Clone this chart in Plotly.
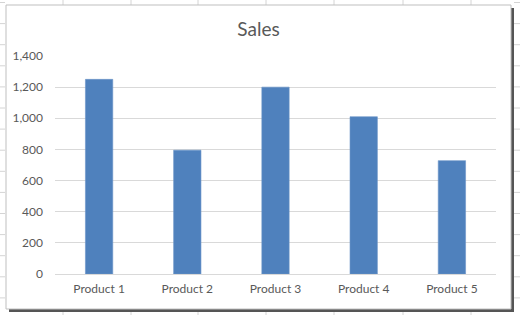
import plotly.graph_objects as go

categories = ["Product 1", "Product 2", "Product 3", "Product 4", "Product 5"]
sales = [1250, 795, 1200, 1010, 728]
y_ticks = [0, 200, 400, 600, 800, 1000, 1200, 1400]

W, H = 520, 315
L, R, T, B = 55, 496, 56, 274  # plot area in pixels


def px(x):
    return (x - L) / (R - L)


def py(y):
    return (B - y) / (B - T)


fig = go.Figure(
    go.Bar(
        x=categories,
        y=sales,
        marker=dict(color="#4F81BD", line=dict(color="#6A94C8", width=0.6)),
        width=0.31,
    )
)

shapes = []
grid_c = "#D4D4D4"
# spreadsheet cell lines outside the chart
col_x = [63, 131, 198, 266, 334, 403, 471]
for cx in col_x:
    shapes.append(dict(type="line", xref="paper", yref="paper", x0=px(cx), x1=px(cx),
                       y0=py(0), y1=py(5), line=dict(color=grid_c, width=1), layer="below"))
    shapes.append(dict(type="line", xref="paper", yref="paper", x0=px(cx), x1=px(cx),
                       y0=py(309), y1=py(315), line=dict(color=grid_c, width=1), layer="below"))
row_y = [2.5 + 21.1 * k for k in range(15)]
for ry in row_y:
    shapes.append(dict(type="line", xref="paper", yref="paper", x0=px(0), x1=px(5),
                       y0=py(ry), y1=py(ry), line=dict(color=grid_c, width=1), layer="below"))
    shapes.append(dict(type="line", xref="paper", yref="paper", x0=px(514), x1=px(520),
                       y0=py(ry), y1=py(ry), line=dict(color=grid_c, width=1), layer="below"))
# shadow
shapes.append(dict(type="rect", xref="paper", yref="paper", x0=px(9), x1=px(514),
                   y0=py(312), y1=py(8), fillcolor="#555555", line=dict(width=0), layer="below"))
# chart frame
shapes.append(dict(type="rect", xref="paper", yref="paper", x0=px(6), x1=px(511),
                   y0=py(309), y1=py(5), fillcolor="white",
                   line=dict(color="#BFBFBF", width=1), layer="below"))

fig.update_layout(
    width=W, height=H,
    margin=dict(l=L, r=W - R, t=T, b=H - B),
    paper_bgcolor="white", plot_bgcolor="rgba(0,0,0,0)",
    showlegend=False,
    shapes=shapes,
    font=dict(family="Lato, Liberation Sans, sans-serif", color="#595959", size=12),
    title=dict(text="Sales", x=px(258.5), xref="paper", xanchor="center",
               y=1 - 29 / H, yanchor="middle",
               font=dict(size=19, color="#595959", family="Lato, Liberation Sans, sans-serif")),
)
fig.update_yaxes(
    range=[0, 1400], tickvals=y_ticks, tickformat=",", showgrid=True,
    gridcolor="#D9D9D9", gridwidth=1, zeroline=False, showline=False,
    ticks="", ticklabelstandoff=11, fixedrange=True,
    tickfont=dict(size=12, color="#595959"),
)
fig.update_xaxes(
    showgrid=False, showline=True, linecolor="#D9D9D9", linewidth=1,
    ticks="", ticklabelstandoff=4, tickfont=dict(size=12, color="#595959"),
    fixedrange=True,
)

fig.write_html("out.html", config={"displayModeBar": False})
